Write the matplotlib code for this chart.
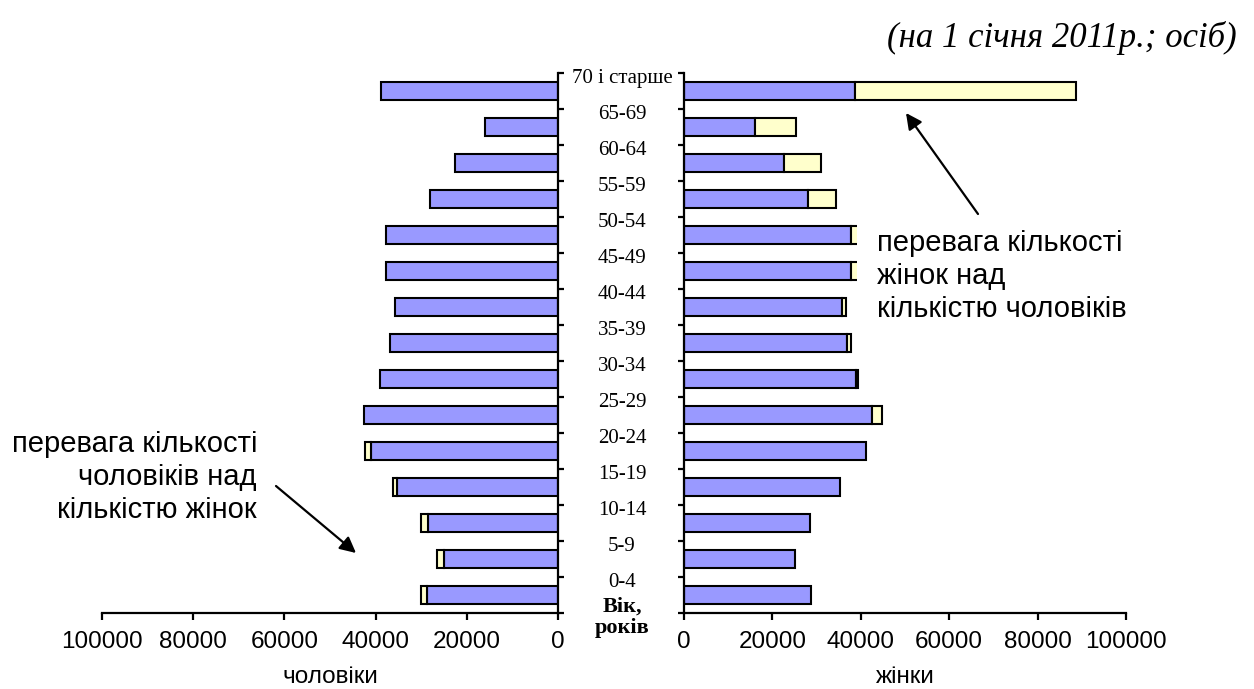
import numpy as np
import matplotlib
matplotlib.use("Agg")
import matplotlib.pyplot as plt
from matplotlib import transforms
from matplotlib.patches import Rectangle, FancyArrowPatch

# ---- data ----
age_groups = ["70 і старше", "65-69", "60-64", "55-59", "50-54", "45-49", "40-44",
              "35-39", "30-34", "25-29", "20-24", "15-19", "10-14", "5-9", "0-4"]
men = [38800, 16000, 22600, 28000, 37800, 37800, 35700, 36800, 39000, 42500,
       42400, 36200, 30000, 26500, 30100]
women = [88800, 25300, 30900, 34400, 41000, 40500, 36600, 37700, 39400, 44800,
         41100, 35200, 28500, 25100, 28700]
x_ticks = [0, 20000, 40000, 60000, 80000, 100000]
title = "(на 1 січня 2011р.; осіб)"
note_women = "перевага кількості\nжінок над\nкількістю чоловіків"
note_men = "перевага кількості\nчоловіків над\nкількістю жінок"

W, H = 1254, 689
fig = plt.figure(figsize=(W / 100, H / 100), dpi=100)
fig.patch.set_facecolor("white")

BLUE = "#9999FF"
YELLOW = "#FFFFCC"
sans = ["Liberation Sans", "DejaVu Sans"]
serif = ["Liberation Serif", "DejaVu Serif"]

def fr(x0, y0, x1, y1):
    return [x0 / W, 1 - y1 / H, (x1 - x0) / W, (y1 - y0) / H]

axL = fig.add_axes(fr(102, 73, 558, 613))
axR = fig.add_axes(fr(684, 73, 1126, 613))

men = np.array(men, float)
women = np.array(women, float)
common = np.minimum(men, women)
ex_m = np.clip(men - women, 0, None)
ex_w = np.clip(women - men, 0, None)
y = np.arange(len(age_groups))
bh = 0.5
kw = dict(edgecolor="black", linewidth=1.5, height=bh)

axL.barh(y, common, color=BLUE, **kw)
mL = ex_m > 0
axL.barh(y[mL], ex_m[mL], left=common[mL], color=YELLOW, **kw)
axR.barh(y, common, color=BLUE, **kw)
mR = ex_w > 0
axR.barh(y[mR], ex_w[mR], left=common[mR], color=YELLOW, **kw)

for ax in (axL, axR):
    ax.set_ylim(len(age_groups) - 0.5, -0.5)
    ax.set_yticks(np.arange(-0.5, len(age_groups) + 0.5, 1))
    ax.set_yticklabels([])
    ax.set_xticks(x_ticks)
    ax.set_xticklabels([str(t) for t in x_ticks], fontfamily=sans, fontsize=17.5)
    ax.tick_params(axis="x", direction="out", length=5, width=1.6, pad=8)
    ax.tick_params(axis="y", direction="out", length=4, width=1.6)
    ax.spines["top"].set_visible(False)
    for s in ax.spines.values():
        s.set_linewidth(1.6)

axL.set_xlim(100000, 0)
axL.spines["left"].set_visible(False)
axL.yaxis.tick_right()
axL.set_xlabel("чоловіки", fontfamily=sans, fontsize=17.5, labelpad=9)

axR.set_xlim(0, 100000)
axR.spines["right"].set_visible(False)
axR.set_xlabel("жінки", fontfamily=sans, fontsize=17.5, labelpad=9)

# category labels in the middle column (at the tick boundaries)
trans = transforms.blended_transform_factory(fig.transFigure, axL.transData)
xc = 622 / W
for i, lab in enumerate(age_groups):
    axL.text(xc, i - 0.5 + 0.15, lab, transform=trans, ha="center", va="center",
             fontfamily=serif, fontsize=15, clip_on=False)
axL.text(xc, len(age_groups) - 0.5 + 0.12, "Вік,\nроків", transform=trans,
         ha="center", va="center", fontfamily=serif, fontsize=16,
         fontweight="bold", linespacing=1.15, clip_on=False)

# overlay in pixel coordinates
ov = fig.add_axes([0, 0, 1, 1], zorder=5)
ov.set_xlim(0, W)
ov.set_ylim(H, 0)
ov.axis("off")
ov.patch.set_alpha(0)

ov.add_patch(Rectangle((857, 220), 340, 108, facecolor="white", edgecolor="none"))
ov.text(877, 276, note_women, ha="left", va="center", fontfamily=sans,
        fontsize=21, linespacing=1.22)
ov.text(257, 477, note_men, ha="right", va="center", fontfamily=sans,
        fontsize=21, linespacing=1.22)

for (xa, ya), (xb, yb) in [((978, 214), (906, 113)), ((276, 486), (356, 553))]:
    ov.add_patch(FancyArrowPatch((xa, ya), (xb, yb), arrowstyle="-|>",
                                 mutation_scale=24, linewidth=1.6,
                                 color="black", shrinkA=0, shrinkB=0))

fig.text(1237 / W, 1 - 38 / H, title, ha="right", va="center",
         fontfamily=serif, fontstyle="italic", fontsize=25)

fig.savefig("out.png", dpi=100)
